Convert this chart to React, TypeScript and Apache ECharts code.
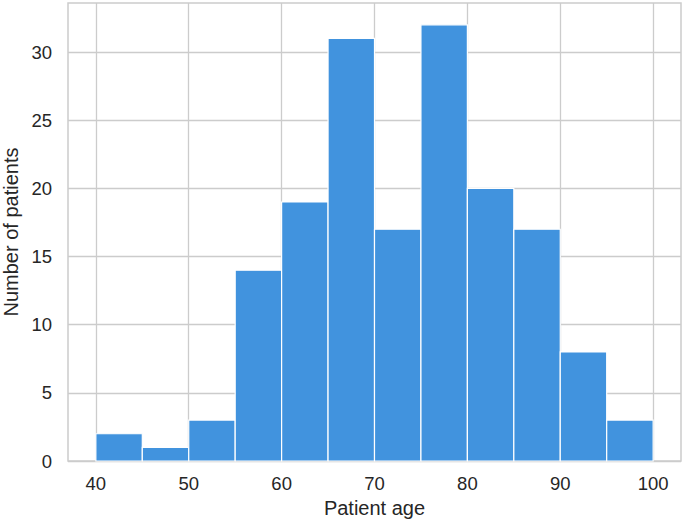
import React, { useEffect, useRef } from "react";
import * as echarts from "echarts";

const binStarts = [40, 45, 50, 55, 60, 65, 70, 75, 80, 85, 90, 95];
const binWidth = 5;
const counts = [2, 1, 3, 14, 19, 31, 17, 32, 20, 17, 8, 3];
const xTicks = [40, 50, 60, 70, 80, 90, 100];
const yTicks = [0, 5, 10, 15, 20, 25, 30];

export default function App() {
  const ref = useRef<HTMLDivElement>(null);
  useEffect(() => {
    if (!ref.current) return;
    const chart = echarts.init(ref.current, undefined, { renderer: "svg" });
    const font = "'Liberation Sans', Arial, Helvetica, sans-serif";
    const data = binStarts.map((s, i) => [s, s + binWidth, counts[i]]);
    chart.setOption({
      animation: false,
      grid: {
        left: 68,
        right: 4,
        top: 3,
        bottom: 63,
        show: true,
        borderColor: "#cccccc",
        borderWidth: 1.5,
        backgroundColor: "#ffffff",
        containLabel: false,
        outerBoundsMode: "none",
      },
      xAxis: {
        type: "value",
        min: 37,
        max: 103,
        name: "Patient age",
        nameLocation: "middle",
        nameGap: 31,
        nameTextStyle: { fontFamily: font, fontSize: 20, color: "#262626", verticalAlign: "top" },
        axisLine: { show: false },
        axisTick: { show: false, customValues: xTicks },
        axisLabel: {
          customValues: xTicks,
          fontFamily: font,
          fontSize: 18.5,
          color: "#262626",
          margin: 13,
        },
        splitLine: { show: true, lineStyle: { color: "#cccccc", width: 1.3 } },
      },
      yAxis: {
        type: "value",
        min: 0,
        max: 33.6,
        name: "Number of patients",
        nameLocation: "middle",
        nameGap: 44,
        nameTextStyle: { fontFamily: font, fontSize: 20, color: "#262626" },
        axisLine: { show: false },
        axisTick: { show: false, customValues: yTicks },
        axisLabel: {
          customValues: yTicks,
          fontFamily: font,
          fontSize: 18.5,
          color: "#262626",
          margin: 16,
        },
        splitLine: { show: true, lineStyle: { color: "#cccccc", width: 1.3 } },
      },
      series: [
        {
          type: "custom",
          data,
          encode: { x: [0, 1], y: 2 },
          renderItem: (params: any, api: any) => {
            const x0 = api.value(0);
            const x1 = api.value(1);
            const y = api.value(2);
            const p0 = api.coord([x0, y]);
            const p1 = api.coord([x1, 0]);
            return {
              type: "rect",
              shape: { x: p0[0], y: p0[1], width: p1[0] - p0[0], height: p1[1] - p0[1] },
              style: { fill: "#4193de", stroke: "#ffffff", lineWidth: 1.2 },
            };
          },
        },
      ],
    });
    return () => chart.dispose();
  }, []);
  return <div ref={ref} style={{ width: 685, height: 524, position: "absolute", left: 0, top: 0 }} />;
}
